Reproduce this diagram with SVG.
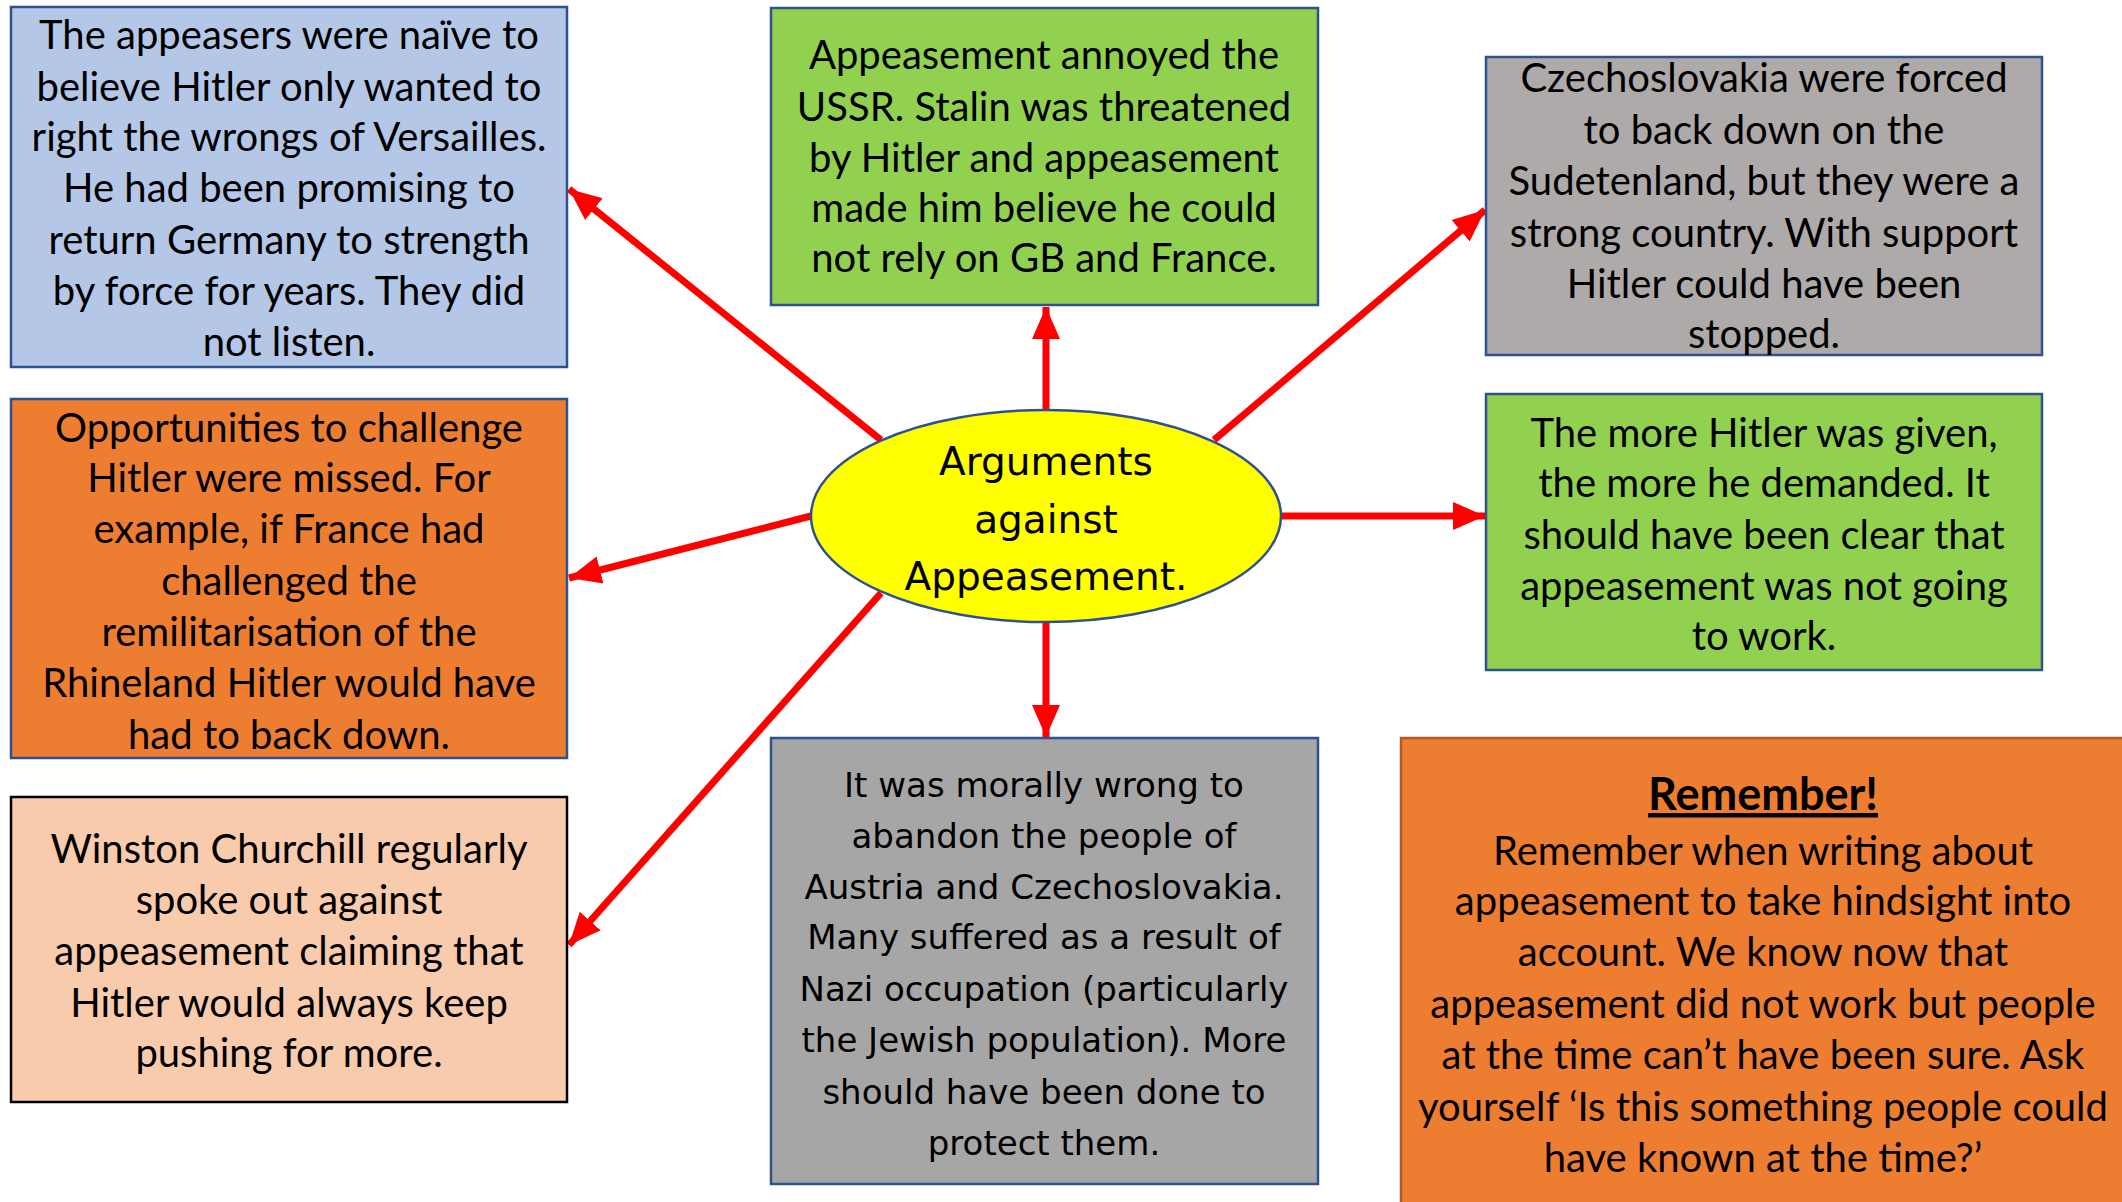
<svg xmlns="http://www.w3.org/2000/svg" width="2122" height="1202" viewBox="0 0 2122 1202">
<style>
.box{stroke:#2F528F;stroke-width:2.5}
.t{font-family:Lato,"Liberation Sans",sans-serif;font-size:40px;fill:#000;text-anchor:middle}
.g{font-family:"DejaVu Sans","Liberation Sans",sans-serif;font-size:34px;fill:#000;text-anchor:middle}
.c{font-size:39px}
.h{font-size:45px;font-weight:bold;text-decoration:underline}
.conn{stroke:#FF0000;stroke-width:7;fill:none;marker-end:url(#ah)}
</style>
<defs>
<marker id="ah" markerUnits="userSpaceOnUse" markerWidth="34" markerHeight="34" viewBox="0 0 34 34" refX="32" refY="17" orient="auto">
<path d="M0,3 L32,17 L0,31 Z" fill="#FF0000"/>
</marker>
</defs>
<rect width="2122" height="1202" fill="#fff"/>

<g id="connectors">
<line class="conn" x1="1046" y1="410" x2="1046" y2="307"/>
<line class="conn" x1="881" y1="440" x2="569" y2="189"/>
<line class="conn" x1="1214" y1="440" x2="1485" y2="210"/>
<line class="conn" x1="1282" y1="516" x2="1485" y2="516"/>
<line class="conn" x1="811" y1="516" x2="569" y2="578"/>
<line class="conn" x1="881" y1="593" x2="569" y2="945"/>
<line class="conn" x1="1046" y1="623" x2="1046" y2="737"/>
</g>

<g id="node-center">
<ellipse cx="1046" cy="516" rx="235" ry="106" fill="#FFFF00" stroke="#2F528F" stroke-width="2.5"/>
<text class="g c"><tspan x="1046" y="475">Arguments</tspan><tspan x="1046" y="533">against</tspan><tspan x="1046" y="590">Appeasement.</tspan></text>
</g>

<g id="node-naive">
<rect class="box" x="11" y="7" width="556" height="360" fill="#B4C7E7"/>
<text class="t"><tspan x="289" y="49">The appeasers were naïve to</tspan><tspan x="289" y="101">believe Hitler only wanted to</tspan><tspan x="289" y="151">right the wrongs of Versailles.</tspan><tspan x="289" y="202">He had been promising to</tspan><tspan x="289" y="254">return Germany to strength</tspan><tspan x="289" y="305">by force for years. They did</tspan><tspan x="289" y="356">not listen.</tspan></text>
</g>

<g id="node-ussr">
<rect class="box" x="771" y="8" width="547" height="297" fill="#92D050"/>
<text class="t"><tspan x="1044" y="69">Appeasement annoyed the</tspan><tspan x="1044" y="121">USSR. Stalin was threatened</tspan><tspan x="1044" y="172">by Hitler and appeasement</tspan><tspan x="1044" y="222">made him believe he could</tspan><tspan x="1044" y="272">not rely on GB and France.</tspan></text>
</g>

<g id="node-czech">
<rect class="box" x="1486" y="57" width="556" height="298" fill="#AEAAAA"/>
<text class="t"><tspan x="1764" y="92">Czechoslovakia were forced</tspan><tspan x="1764" y="144">to back down on the</tspan><tspan x="1764" y="195">Sudetenland, but they were a</tspan><tspan x="1764" y="247">strong country. With support</tspan><tspan x="1764" y="298">Hitler could have been</tspan><tspan x="1764" y="348">stopped.</tspan></text>
</g>

<g id="node-opportunities">
<rect class="box" x="11" y="399" width="556" height="359" fill="#ED7D31"/>
<text class="t"><tspan x="289" y="442">Opportunities to challenge</tspan><tspan x="289" y="492">Hitler were missed. For</tspan><tspan x="289" y="543">example, if France had</tspan><tspan x="289" y="595">challenged the</tspan><tspan x="289" y="646">remilitarisation of the</tspan><tspan x="289" y="697">Rhineland Hitler would have</tspan><tspan x="289" y="749">had to back down.</tspan></text>
</g>

<g id="node-more">
<rect class="box" x="1486" y="394" width="556" height="276" fill="#92D050"/>
<text class="t"><tspan x="1764" y="447">The more Hitler was given,</tspan><tspan x="1764" y="497">the more he demanded. It</tspan><tspan x="1764" y="549">should have been clear that</tspan><tspan x="1764" y="600">appeasement was not going</tspan><tspan x="1764" y="650">to work.</tspan></text>
</g>

<g id="node-churchill">
<rect x="11" y="797" width="556" height="305" fill="#F8CBAD" stroke="#000" stroke-width="2.5"/>
<text class="t"><tspan x="289" y="863">Winston Churchill regularly</tspan><tspan x="289" y="914">spoke out against</tspan><tspan x="289" y="965">appeasement claiming that</tspan><tspan x="289" y="1017">Hitler would always keep</tspan><tspan x="289" y="1067">pushing for more.</tspan></text>
</g>

<g id="node-moral">
<rect class="box" x="771" y="738" width="547" height="446" fill="#A6A6A6"/>
<text class="g"><tspan x="1044" y="797">It was morally wrong to</tspan><tspan x="1044" y="848">abandon the people of</tspan><tspan x="1044" y="899">Austria and Czechoslovakia.</tspan><tspan x="1044" y="949">Many suffered as a result of</tspan><tspan x="1044" y="1001">Nazi occupation (particularly</tspan><tspan x="1044" y="1052">the Jewish population). More</tspan><tspan x="1044" y="1104">should have been done to</tspan><tspan x="1044" y="1155">protect them.</tspan></text>
</g>

<g id="node-remember">
<rect x="1401" y="738" width="730" height="474" fill="#ED7D31" stroke="#AE5A21" stroke-width="2.5"/>
<text class="t h"><tspan x="1763" y="810">Remember!</tspan></text>
<text class="t"><tspan x="1763" y="865">Remember when writing about</tspan><tspan x="1763" y="915">appeasement to take hindsight into</tspan><tspan x="1763" y="966">account. We know now that</tspan><tspan x="1763" y="1018">appeasement did not work but people</tspan><tspan x="1763" y="1069">at the time can’t have been sure. Ask</tspan><tspan x="1763" y="1121">yourself ‘Is this something people could</tspan><tspan x="1763" y="1172">have known at the time?’</tspan></text>
</g>
</svg>
